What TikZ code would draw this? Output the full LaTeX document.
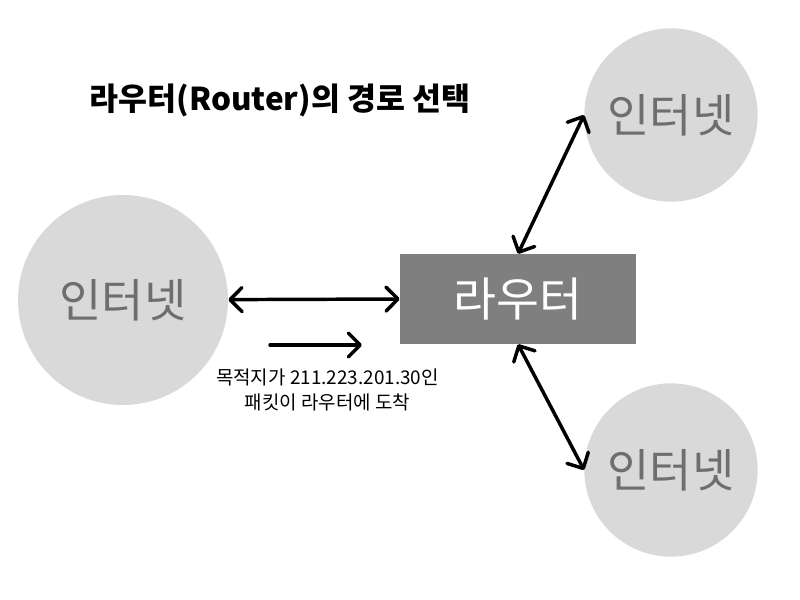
\documentclass[tikz,border=0pt]{standalone}
\usepackage{fontspec}
\setmainfont{Noto Sans CJK KR}
\usepackage{xcolor}
\usetikzlibrary{arrows.meta, positioning}

\definecolor{cloudgray}{HTML}{D9D9D9}
\definecolor{routergray}{HTML}{7F7F7F}
\definecolor{cloudtext}{HTML}{6E6E6E}

\begin{document}
\begin{tikzpicture}[x=0.75pt, y=-0.75pt,
  cloud/.style={circle, fill=cloudgray, minimum size=#1, inner sep=0pt,
                font=\fontsize{34.5}{41}\selectfont, text=cloudtext},
  router/.style={fill=routergray, text=white, minimum width=177pt,
                 minimum height=67.5pt, font=\fontsize{35}{42}\selectfont},
  lbl/.style={font=\fontsize{14.2}{18.5}\selectfont, align=center},
  arr/.style={{Straight Barb[length=9pt, width=18pt, round]}-{Straight Barb[length=9pt, width=18pt, round]},
              line width=2.6pt, line cap=round},
  onearr/.style={-{Straight Barb[length=9pt, width=18pt, round]}, line width=2.6pt, line cap=round}]
  \useasboundingbox (0,0) rectangle (800,600);
  \node[font=\bfseries\fontsize{23.6}{29}\selectfont] (title) at (280,100) {라우터(Router)의 경로 선택};
  \node[cloud=157.5pt] (inetL) at (123,300) {인터넷};
  \node[cloud=130pt] (inetT) at (671,115) {인터넷};
  \node[cloud=130pt] (inetB) at (671,470) {인터넷};
  \node[router] (router) at (518,299) {라우터};
  \draw[arr] (inetL) -- (router.west);
  \draw[arr] (router.north) -- (inetT.west);
  \draw[arr] (router.south) -- (inetB.west);
  % packet direction
  \coordinate (pktA) at (270,345);
  \coordinate (pktB) at (362,345);
  \draw[onearr] (pktA) -- (pktB);
  \node[lbl] (note) at (327.5,390) {목적지가 211.223.201.30인\\패킷이 라우터에 도착};
\end{tikzpicture}
\end{document}
